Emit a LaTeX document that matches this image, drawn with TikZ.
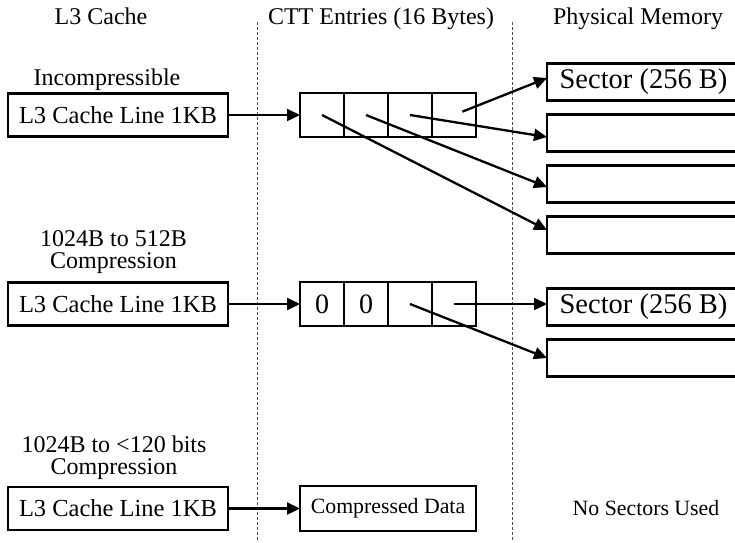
\documentclass[tikz,border=0pt]{standalone}
\usepackage{fontspec}
\setmainfont{Liberation Serif}
\usetikzlibrary{positioning,arrows.meta,calc}
\newcommand{\fs}[1]{\fontsize{#1}{#1}\selectfont}

\tikzset{
	l3box/.style={draw, line width=2.3pt, outer sep=0pt, inner sep=0pt, minimum width=220pt, minimum height=43pt, font=\fs{24.5}},
	cell/.style={draw, line width=2.3pt, outer sep=0pt, inner sep=0pt, minimum width=44pt, minimum height=44pt, font=\fs{28}},
	sector/.style={draw, line width=2.3pt, outer sep=0pt, inner sep=0pt, minimum width=193pt, minimum height=37pt, font=\fs{28.5}},
	ptr/.style={line width=2.3pt, -{Triangle[length=13pt,width=12pt]}},
	divider/.style={densely dashed, line width=0.8pt, black!70},
	head/.style={anchor=base, inner sep=0pt, font=\fs{24}},
	lbl/.style={align=center, inner sep=0pt, font=\fontsize{24}{22}\selectfont},
	note/.style={inner sep=0pt, font=\fs{21.8}},
}

\begin{document}
\begin{tikzpicture}[x=1pt,y=-1pt]
	\useasboundingbox (0,0) rectangle (735,542);
	\clip (0,0) rectangle (735,542);

	\node[head] (hl3) at (101,24) {L3 Cache};
	\node[head] (hctt) at (381,24) {CTT Entries (16 Bytes)};
	\node[head] (hmem) at (638,24) {Physical Memory};
	\draw[divider] (257,22) -- (257,542);
	\draw[divider] (512,22) -- (512,542);

	% incompressible line
	\node[l3box] (a1) at (118,115) {L3 Cache Line 1KB};
	\node[lbl, above=2.5pt of a1, xshift=-11pt] (a1t) {Incompressible};
	\node[cell, right=72pt of a1] (b1) {};
	\node[cell, right=0pt of b1] (b2) {};
	\node[cell, right=0pt of b2] (b3) {};
	\node[cell, right=0pt of b3] (b4) {};
	\node[sector] (c1) at (643.5,82) {Sector (256 B)};
	\node[sector, below=14pt of c1] (c2) {};
	\node[sector, below=14pt of c2] (c3) {};
	\node[sector, below=14pt of c3] (c4) {};
	\draw[ptr] (a1) -- (b1);
	\draw[ptr] (b1.center) -- ([yshift=5pt]c4.west);
	\draw[ptr] (b2.center) -- ([yshift=-3pt]c3.west);
	\draw[ptr] (b3.center) -- ([yshift=-4pt]c2.west);
	\draw[ptr, shorten <=9pt] (b4.center) -- ([yshift=4pt]c1.west);

	% 1024B to 512B
	\node[l3box] (a2) at (118,304) {L3 Cache Line 1KB};
	\node[lbl, above=9pt of a2, xshift=-4.5pt] (a2t) {1024B to 512B\\Compression};
	\node[cell, right=72pt of a2] (d1) {0};
	\node[cell, right=0pt of d1] (d2) {0};
	\node[cell, right=0pt of d2] (d3) {};
	\node[cell, right=0pt of d3] (d4) {};
	\node[sector] (e1) at (643.5,307) {Sector (256 B)};
	\node[sector, below=14pt of e1] (e2) {};
	\draw[ptr] (a2) -- (d1);
	\draw[ptr] (d4.center) -- (d4.center -| e1.west);
	\draw[ptr] (d3.center) -- (e2.west);

	% 1024B to <120 bits
	\node[l3box] (a3) at (118,508.5) {L3 Cache Line 1KB};
	\node[lbl, above=7pt of a3, xshift=-4pt] (a3t) {1024B to <120 bits\\Compression};
	\node[l3box, minimum width=176pt, minimum height=45pt, font=\fs{21.8}, right=72pt of a3] (f1) {Compressed Data};
	\node[note] (g1) at (646,508.5) {No Sectors Used};
	\draw[ptr] (a3) -- (f1);
\end{tikzpicture}
\end{document}
